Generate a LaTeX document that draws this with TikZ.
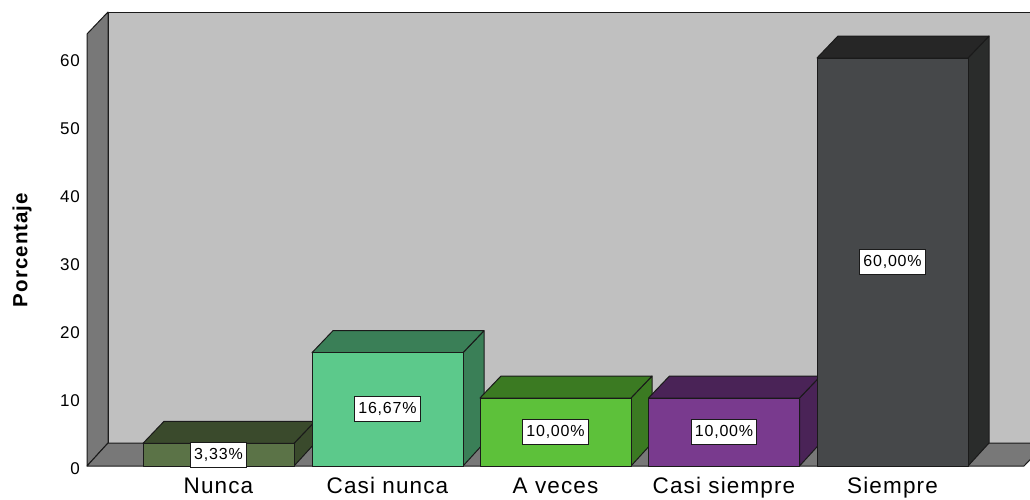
\documentclass[tikz,border=0pt]{standalone}
\usepackage{fontspec}
\setmainfont{Liberation Sans}
\newfontfamily\lsans[LetterSpace=5]{Liberation Sans}
\definecolor{backwall}{HTML}{C0C0C0}
\definecolor{sidewall}{HTML}{787878}
\definecolor{edge}{HTML}{1A1A1A}
\definecolor{nuF}{HTML}{5B7347}\definecolor{nuS}{HTML}{3A4A2C}
\definecolor{cnF}{HTML}{5CC98B}\definecolor{cnS}{HTML}{3A7F57}
\definecolor{avF}{HTML}{5DC13A}\definecolor{avS}{HTML}{3B7A22}
\definecolor{csF}{HTML}{793A8E}\definecolor{csS}{HTML}{4A2357}
\definecolor{siF}{HTML}{46484A}\definecolor{siT}{HTML}{262626}\definecolor{siS}{HTML}{2A2C2B}
\tikzset{
  face/.style={draw=edge, line width=1pt, line join=round},
  vallabel/.style={draw=edge, fill=white, line width=0.8pt, inner xsep=3.5pt, inner ysep=0pt,
     minimum height=25pt, font=\lsans\fontsize{16}{16}\selectfont},
  catlabel/.style={anchor=base, inner sep=0pt, font=\lsans\fontsize{22.5}{22.5}\selectfont},
  ticklabel/.style={anchor=base east, inner sep=0pt, font=\lsans\fontsize{17}{17}\selectfont},
}
% #1 left x, #2 value, #3 front, #4 side, #5 top, #6 label text, #7 name
\newcommand\mybar[7]{%
  \pgfmathsetmacro\yt{466-6.8*#2}%
  \pgfmathsetmacro\yb{\yt-22}%
  \pgfmathsetmacro\xr{#1+151}%
  \pgfmathsetmacro\xrb{#1+172}%
  \pgfmathsetmacro\xlb{#1+21}%
  \pgfmathsetmacro\xc{#1+75.5}%
  \pgfmathsetmacro\yc{(\yt+466)/2}%
  \path[face, fill=#4] (\xr,466) -- (\xrb,443) -- (\xrb,\yb) -- (\xr,\yt) -- cycle;
  \path[face, fill=#5] (#1,\yt) -- (\xlb,\yb) -- (\xrb,\yb) -- (\xr,\yt) -- cycle;
  \path[face, fill=#3] (#1,466) rectangle (\xr,\yt);
  \node[vallabel] (v#7) at (\xc,\yc) {#6};
}
\begin{document}
\begin{tikzpicture}[x=1pt,y=-1pt]
\useasboundingbox (0,0) rectangle (1030,499);
\clip (0,0) rectangle (1030,499);
% walls
\path[face, fill=backwall] (108,12) -- (1060,12) -- (1060,443) -- (108,443) -- cycle;
\path[face, fill=sidewall] (87,34) -- (108,12) -- (108,443) -- (87,466) -- cycle;
\path[face, fill=sidewall] (87,466) -- (108,443) -- (1046,443) -- (1024,466) -- cycle;
% ticks
\foreach \v in {0,10,...,60}{
  \node[ticklabel] (t\v) at (80,{466-6.8*\v+8}) {\v};
}
\node[rotate=90, inner sep=0pt, font=\bfseries\lsans\fontsize{20.5}{20.5}\selectfont] (ylab) at (22,250) {Porcentaje};
% bars
\mybar{143}{3.333}{nuF}{nuS}{nuS}{3,33\%}{a}
\mybar{312}{16.667}{cnF}{cnS}{cnS}{16,67\%}{b}
\mybar{480}{10}{avF}{avS}{avS}{10,00\%}{c}
\mybar{648.5}{10}{csF}{csS}{csS}{10,00\%}{d}
\mybar{817}{60}{siF}{siS}{siT}{60,00\%}{e}
% categories
\node[catlabel] (ca) at (218.5,493) {Nunca};
\node[catlabel] (cb) at (387.5,493) {Casi nunca};
\node[catlabel] (cc) at (555.5,493) {A veces};
\node[catlabel] (cd) at (724,493) {Casi siempre};
\node[catlabel] (ce) at (892.5,493) {Siempre};
\end{tikzpicture}
\end{document}
